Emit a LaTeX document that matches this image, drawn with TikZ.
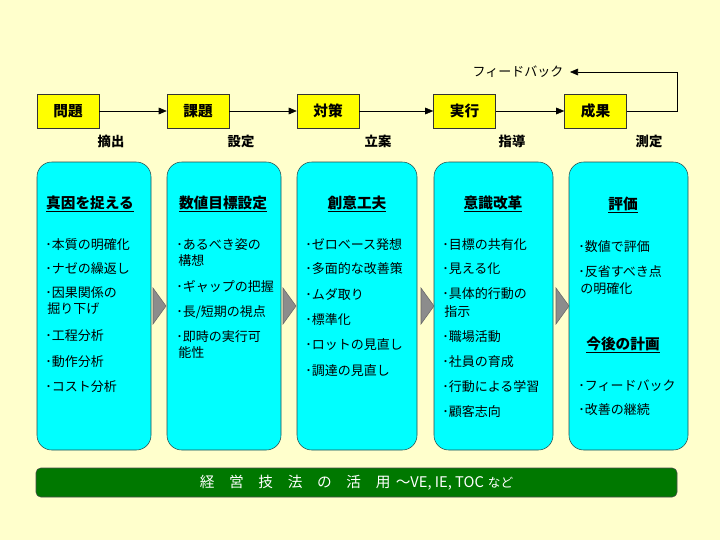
\documentclass[tikz,border=0pt]{standalone}
\usepackage{fontspec}
\setmainfont{Noto Sans CJK JP}
\usetikzlibrary{arrows.meta}
\definecolor{bgyellow}{HTML}{FFFFCC}
\definecolor{boxyellow}{HTML}{FFFF00}
\definecolor{panelcyan}{HTML}{00FFFF}
\definecolor{paneledge}{HTML}{2A4A4A}
\definecolor{bargreen}{HTML}{007800}
\definecolor{tipgray}{HTML}{8C8C8C}
\tikzset{
  stage/.style={draw=black!80, fill=boxyellow, minimum width=46.5pt, minimum height=25.5pt,
    inner sep=0pt, font=\fontsize{11}{13}\selectfont\bfseries},
  verb/.style={inner sep=0pt, font=\fontsize{10}{12}\selectfont\bfseries},
  panel/.style={draw=paneledge, fill=panelcyan, rounded corners=11pt, minimum height=216pt, inner sep=0pt},
  head/.style={inner sep=0pt, font=\fontsize{11}{13}\selectfont\bfseries},
  item/.style={anchor=west, inner sep=0pt, font=\fontsize{9.75}{12}\selectfont},
  pointer/.style={draw=black!60, fill=tipgray},
  band/.style={draw=black!70, fill=bargreen, rounded corners=3.5pt, minimum width=480.75pt,
    minimum height=21.75pt, inner sep=0pt, text=white, font=\fontsize{11}{13}\selectfont},
}
\begin{document}
\begin{tikzpicture}[x=0.75pt, y=-0.75pt, >={Triangle[length=6pt,width=5pt]}]
	\fill[bgyellow] (0,0) rectangle (720,540);
	\useasboundingbox (0,0) rectangle (720,540);
	
	% process row
	\node[stage] (mondai) at (68,111) {問題};
	\node[stage] (kadai) at (198,111) {課題};
	\node[stage] (taisaku) at (328,111) {対策};
	\node[stage] (jikko) at (464.5,111) {実行};
	\node[stage] (seika) at (595.5,111) {成果};
	\draw[->] (mondai) -- (kadai);
	\draw[->] (kadai) -- (taisaku);
	\draw[->] (taisaku) -- (jikko);
	\draw[->] (jikko) -- (seika);
	
	\node[verb] (tekishutsu) at (111,141) {摘出};
	\node[verb] (settei) at (241,141) {設定};
	\node[verb] (rituan) at (378,141) {立案};
	\node[verb] (shido) at (512,141) {指導};
	\node[verb] (sokutei) at (649,141) {測定};
	
	% feedback loop
	\coordinate (fbtop) at (677,72);
	\coordinate (fbend) at (570,72);
	\draw[->] (seika.east) -- (seika.east -| fbtop) -- (fbtop) -- (fbend);
	\node[item, anchor=center] (fb) at (518,72) {フィードバック};
	
	% panels
	\node[panel, minimum width=85.5pt] (p1) at (94,306) {};
	\node[panel, minimum width=85.5pt] (p2) at (224,306) {};
	\node[panel, minimum width=90pt] (p3) at (357,306) {};
	\node[panel, minimum width=89.25pt] (p4) at (493.5,306) {};
	\node[panel, minimum width=89.25pt] (p5) at (628.5,306) {};
	\foreach \x in {153,283,421,556} {
		\draw[pointer] (\x,288) -- (\x+13,306) -- (\x,324) -- cycle;
	}
	
	\node[head] (h1) at (90,204) {\underline{真因を捉える}};
	\foreach \y/\t in {245/･本質の明確化, 269/･ナゼの繰返し, 293/･因果関係の, 309/\hspace{1.5pt}掘り下げ,
		336/･工程分析, 362/･動作分析, 387/･コスト分析} {
		\node[item] (a\y) at (45,\y) {\t};
	}
	
	\node[head] (h2) at (223,204) {\underline{数値目標設定}};
	\foreach \y/\t in {245/･あるべき姿の, 261/\hspace{1.5pt}構想, 287/･ギャップの把握, 312/{･長/短期の視点},
		337/･即時の実行可, 353/\hspace{1.5pt}能性} {
		\node[item] (b\y) at (176,\y) {\t};
	}
	
	\node[head] (h3) at (357,204) {\underline{創意工夫}};
	\foreach \y/\t in {245/･ゼロベース発想, 269/･多面的な改善策, 294/･ムダ取り, 320/･標準化,
		345/･ロットの見直し, 371/･調達の見直し} {
		\node[item] (c\y) at (305,\y) {\t};
	}
	
	\node[head] (h4) at (493,204) {\underline{意識改革}};
	\foreach \y/\t in {245/･目標の共有化, 269/･見える化, 294/･具体的行動の, 312/\hspace{1.5pt}指示,
		337/･職場活動, 362/･社員の育成, 387/･行動による学習, 412/･顧客志向} {
		\node[item] (d\y) at (442,\y) {\t};
	}
	
	\node[head] (h5) at (623,205) {\underline{評価}};
	\foreach \y/\t in {247/･数値で評価, 272/･反省すべき点, 289/\hspace{1.5pt}の明確化,
		386/･フィードバック, 410/･改善の継続} {
		\node[item] (e\y) at (578,\y) {\t};
	}
	\node[head] (h6) at (623,345) {\underline{今後の計画}};
	
	% bottom band
	\node[band] (katsuyo) at (356.5,482.5)
		{経　営　技　法　の　活　用\hspace{4pt}～VE, IE, TOC\hspace{3pt}{\fontsize{9.5}{12}\selectfont など}};
\end{tikzpicture}
\end{document}
